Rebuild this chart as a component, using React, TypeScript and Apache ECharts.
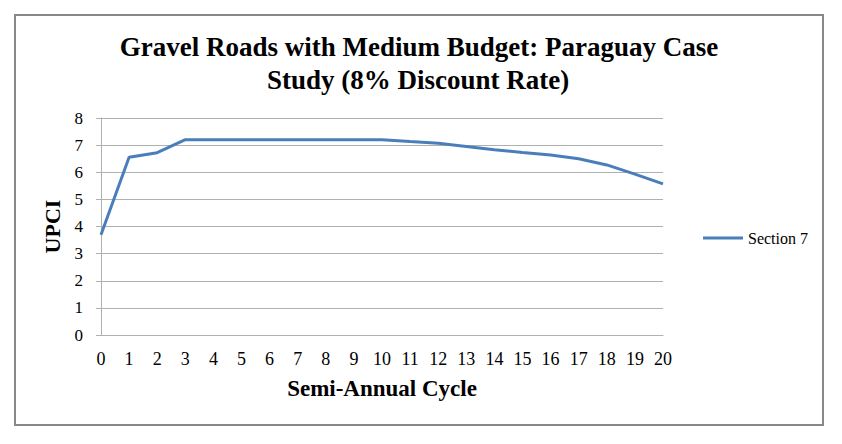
import React, { useEffect, useRef } from "react";
import * as echarts from "echarts";

const titleLines = ["Gravel Roads with Medium Budget: Paraguay Case", "Study (8% Discount Rate)"];
const categories = ["0", "1", "2", "3", "4", "5", "6", "7", "8", "9", "10", "11", "12", "13", "14", "15", "16", "17", "18", "19", "20"];
const section7 = [3.7, 6.55, 6.72, 7.2, 7.2, 7.2, 7.2, 7.2, 7.2, 7.2, 7.2, 7.13, 7.07, 6.95, 6.83, 6.73, 6.64, 6.5, 6.27, 5.93, 5.57];
const seriesName = "Section 7";
const yTicks = { min: 0, max: 8, interval: 1 };
const xName = "Semi-Annual Cycle";
const yName = "UPCI";

const FONT = "'Liberation Serif', 'Times New Roman', serif";
const GRID_COLOR = "#b0b0b0";

export default function App() {
  const ref = useRef<HTMLDivElement>(null);
  useEffect(() => {
    if (!ref.current) return;
    const chart = echarts.init(ref.current, null, { renderer: "svg" });
    chart.setOption({
      animation: false,
      backgroundColor: "#ffffff",
      textStyle: { fontFamily: FONT },
      grid: { left: 101, right: 179, top: 118, bottom: 109, containLabel: false },
      graphic: [
        {
          type: "rect",
          shape: { x: 15, y: 15, width: 808, height: 410 },
          style: { fill: "none", stroke: "#888888", lineWidth: 2 },
          silent: true,
        },
        {
          type: "text",
          x: 419,
          y: 47,
          style: {
            text: titleLines[0],
            font: `bold 27px ${FONT}`,
            fill: "#000",
            textAlign: "center",
            textVerticalAlign: "middle",
          },
        },
        {
          type: "text",
          x: 418,
          y: 80,
          style: {
            text: titleLines[1],
            font: `bold 27px ${FONT}`,
            fill: "#000",
            textAlign: "center",
            textVerticalAlign: "middle",
          },
        },
      ],
      legend: {
        data: [{ name: seriesName, icon: "rect" }],
        left: 703,
        top: 230,
        padding: 0,
        itemWidth: 40,
        itemHeight: 3,
        textStyle: { fontFamily: FONT, fontSize: 16, color: "#000" },
      },
      xAxis: {
        type: "category",
        data: categories,
        boundaryGap: false,
        name: xName,
        nameLocation: "middle",
        nameGap: 42,
        nameTextStyle: { fontFamily: FONT, fontSize: 23, fontWeight: "bold", color: "#000" },
        axisLine: { lineStyle: { color: GRID_COLOR, width: 1 } },
        axisTick: { show: false },
        axisLabel: { fontFamily: FONT, fontSize: 18, color: "#000", margin: 15, interval: 0 },
        splitLine: { show: false },
      },
      yAxis: {
        type: "value",
        min: yTicks.min,
        max: yTicks.max,
        interval: yTicks.interval,
        name: yName,
        nameLocation: "middle",
        nameRotate: 90,
        nameGap: 36,
        nameTextStyle: { fontFamily: FONT, fontSize: 22, fontWeight: "bold", color: "#000" },
        axisLine: { show: true, lineStyle: { color: GRID_COLOR, width: 1 } },
        axisTick: { show: true, length: 5, lineStyle: { color: GRID_COLOR } },
        axisLabel: { fontFamily: FONT, fontSize: 17, color: "#000", margin: 18 },
        splitLine: { show: true, lineStyle: { color: GRID_COLOR, width: 1 } },
      },
      series: [
        {
          name: seriesName,
          type: "line",
          data: section7,
          symbol: "none",
          lineStyle: { color: "#4a7ebb", width: 3 },
          itemStyle: { color: "#4a7ebb" },
        },
      ],
    });
    return () => chart.dispose();
  }, []);
  return <div ref={ref} style={{ position: "fixed", left: 0, top: 0, width: 842, height: 444 }} />;
}
